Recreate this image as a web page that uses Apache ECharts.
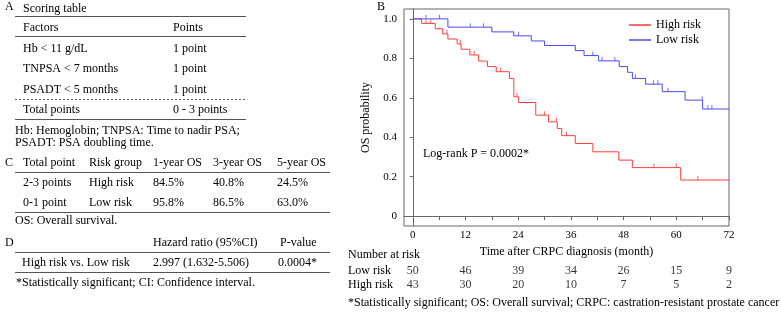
<!DOCTYPE html>
<html><head><meta charset="utf-8">
<script src="https://cdn.jsdelivr.net/npm/echarts@6/dist/echarts.min.js"></script>
<style>html,body{margin:0;padding:0;background:#fff}#c{width:781px;height:313px}</style>
</head><body><div id="c"></div>
<script>
// ---- Kaplan-Meier data ----
const highTimes  = [2, 5.1, 6.8, 8, 10.1, 11, 13, 15, 17, 19, 22, 23, 24.1, 28, 30.9, 32.9, 33.9, 37, 41, 46.9, 50, 61];
const highSurv   = [0.977, 0.950, 0.924, 0.898, 0.873, 0.846, 0.817, 0.786, 0.758, 0.732, 0.698, 0.605, 0.576, 0.512, 0.478, 0.444, 0.408, 0.368, 0.326, 0.284, 0.246, 0.183];
const highCensor = [3, 4.1, 7.8, 10.8, 14, 20, 23.7, 30, 32.7, 35, 54.9, 60, 64.9];
const lowTimes   = [8, 18, 23, 27, 30, 37, 39, 42.3, 47, 48.9, 50, 53, 56.8, 62, 66];
const lowSurv    = [0.958, 0.934, 0.914, 0.888, 0.865, 0.839, 0.814, 0.787, 0.758, 0.729, 0.698, 0.669, 0.631, 0.588, 0.543];
const lowCensor  = [3, 6.1, 13.1, 16.1, 24.1, 41, 43.1, 46, 50.7, 54.8, 55.8, 58.1, 65.9, 67.2, 68.1];
const xTicks     = [0, 6, 12, 18, 24, 30, 36, 42, 48, 54, 60, 66, 72];
const xLabels    = [0, 12, 24, 36, 48, 60, 72];
const yLabels    = [0, 0.2, 0.4, 0.6, 0.8, 1.0];
// ---- Number at risk ----
const riskTimes  = [0, 12, 24, 36, 48, 60, 72];
const lowAtRisk  = [50, 46, 39, 34, 26, 15, 9];
const highAtRisk = [43, 30, 20, 10, 7, 5, 2];
// ---- Tables ----
const scoringFactors = ['Hb < 11 g/dL', 'TNPSA < 7 months', 'PSADT < 5 months'];
const scoringPoints  = ['1 point', '1 point', '1 point'];
const osHeader = ['Total point', 'Risk group', '1-year OS', '3-year OS', '5-year OS'];
const osRows = [['2-3 points', 'High risk', '84.5%', '40.8%', '24.5%'],
                ['0-1 point', 'Low risk', '95.8%', '86.5%', '63.0%']];
const hrHeader = ['', 'Hazard ratio (95%CI)', 'P-value'];
const hrRow = ['High risk vs. Low risk', '2.997 (1.632-5.506)', '0.0004*'];

const RED = '#ff3c3c', BLUE = '#4a4af0';
const FONT = '"Liberation Serif", "Times New Roman", serif';

function stepData(times, surv, end) {
  const d = [[0, 1]];
  let prev = 1;
  times.forEach((t, i) => { d.push([t, prev]); d.push([t, surv[i]]); prev = surv[i]; });
  d.push([end, prev]);
  return d;
}
function levelAt(times, surv, t) {
  let v = 1;
  for (let i = 0; i < times.length; i++) if (times[i] <= t) v = surv[i];
  return v;
}

const g = [];
function txt(s, x, y, opt) {
  g.push(Object.assign({ type: 'text', style: { text: s, x: x, y: y, fill: '#000',
    font: ((opt && opt.size) || 12) + 'px ' + FONT, textAlign: (opt && opt.align) || 'left',
    textVerticalAlign: 'middle' } }));
}
function hline(x1, x2, y, dash) {
  g.push({ type: 'line', shape: { x1: x1, y1: y, x2: x2, y2: y },
    style: { stroke: '#555', lineWidth: 1, lineDash: dash ? [2, 2] : null } });
}
// Panel A
txt('A', 5, 7); txt('Scoring table', 23, 8.5);
hline(15, 246, 16.5);
txt('Factors', 23, 27.5); txt('Points', 173, 27.5);
hline(15, 246, 36.5);
const aRowsY = [48.5, 69, 89.5];
scoringFactors.forEach((f, i) => { txt(f, 23, aRowsY[i]); txt(scoringPoints[i], 173, aRowsY[i]); });
hline(15, 246, 99.5, true);
txt('Total points', 23, 110); txt('0 - 3 points', 173, 110);
hline(15, 246, 119.5);
txt('Hb: Hemoglobin; TNPSA: Time to nadir PSA;', 15, 130.5);
txt('PSADT: PSA doubling time.', 15, 143);
// Panel C
const cX = [23, 89, 153, 213, 277];
txt('C', 5, 163);
osHeader.forEach((h, i) => txt(h, cX[i], 163));
hline(15, 330, 172.5);
osRows.forEach((r, j) => r.forEach((c, i) => txt(c, cX[i], 183 + 20 * j)));
hline(15, 330, 212.5);
txt('OS: Overall survival.', 15, 221);
// Panel D
txt('D', 5, 243);
txt(hrHeader[1], 153, 243); txt(hrHeader[2], 280, 243);
hline(15, 330, 252.5);
txt(hrRow[0], 22, 263); txt(hrRow[1], 153, 263); txt(hrRow[2], 278, 263);
hline(15, 330, 272.5);
txt('*Statistically significant; CI: Confidence interval.', 16, 283);
// Panel B extras
txt('B', 377, 7);
txt('Log-rank P = 0.0002*', 423, 154);
txt('Number at risk', 348, 255);
txt('Low risk', 348, 271);
txt('High risk', 348, 285);
txt('*Statistically significant; OS: Overall survival; CRPC: castration-resistant prostate cancer', 348, 303);

const chart = echarts.init(document.getElementById('c'));
chart.setOption({
  animation: false,
  textStyle: { fontFamily: FONT },
  grid: [
    { left: 404, top: 9, width: 325, height: 217, show: true, borderColor: '#666', borderWidth: 1 },
    { left: 404, top: 263.5, width: 325, height: 28.6 }
  ],
  legend: {
    data: ['High risk', 'Low risk'], orient: 'vertical', left: 629, top: 19, padding: 0,
    itemWidth: 22, itemHeight: 1.5, itemGap: 3, icon: 'rect',
    textStyle: { fontFamily: FONT, fontSize: 12, color: '#000' }
  },
  xAxis: [
    { type: 'value', gridIndex: 0, min: -2, max: 72,
      name: 'Time after CRPC diagnosis (month)', nameLocation: 'middle', nameGap: 19,
      nameTextStyle: { fontFamily: FONT, fontSize: 12, color: '#000' },
      axisLine: { show: true, lineStyle: { color: '#666' } },
      axisTick: { show: true, length: 4, lineStyle: { color: '#666' }, customValues: xTicks },
      axisLabel: { customValues: xLabels, margin: 4, fontFamily: FONT, fontSize: 11, color: '#000' },
      splitLine: { show: false } },
    { type: 'value', gridIndex: 1, min: -2, max: 72, show: false }
  ],
  yAxis: [
    { type: 'value', gridIndex: 0, min: -0.05, max: 1.05,
      name: 'OS probability', nameLocation: 'middle', nameGap: 32,
      nameTextStyle: { fontFamily: FONT, fontSize: 12, color: '#000' },
      axisLine: { show: true, lineStyle: { color: '#666' } },
      axisTick: { show: true, length: 3, lineStyle: { color: '#666' }, customValues: yLabels },
      axisLabel: { customValues: yLabels, margin: 7, fontFamily: FONT, fontSize: 11, color: '#000',
        formatter: v => (v === 0 ? '0' : v.toFixed(1)) },
      splitLine: { show: false } },
    { type: 'category', gridIndex: 1, data: ['High risk', 'Low risk'], show: false }
  ],
  series: [
    { name: 'High risk', type: 'line', data: stepData(highTimes, highSurv, 72), showSymbol: false,
      lineStyle: { color: RED, width: 1 }, itemStyle: { color: RED } },
    { name: 'Low risk', type: 'line', data: stepData(lowTimes, lowSurv, 72), showSymbol: false,
      lineStyle: { color: BLUE, width: 1 }, itemStyle: { color: BLUE } },
    { name: 'hc', type: 'scatter', data: highCensor.map(t => [t, levelAt(highTimes, highSurv, t)]),
      symbol: 'rect', symbolSize: [1, 4], symbolOffset: [0, -2], itemStyle: { color: RED } },
    { name: 'lc', type: 'scatter', data: lowCensor.map(t => [t, levelAt(lowTimes, lowSurv, t)]),
      symbol: 'rect', symbolSize: [1, 4], symbolOffset: [0, -2], itemStyle: { color: BLUE } },
    { name: 'risk', type: 'scatter', xAxisIndex: 1, yAxisIndex: 1, symbolSize: 0,
      data: riskTimes.map((t, i) => [t, 'Low risk', lowAtRisk[i]])
        .concat(riskTimes.map((t, i) => [t, 'High risk', highAtRisk[i]])),
      label: { show: true, position: 'inside', formatter: p => String(p.value[2]),
        fontFamily: FONT, fontSize: 12, color: '#000' } }
  ],
  graphic: { elements: g }
});
</script></body></html>
